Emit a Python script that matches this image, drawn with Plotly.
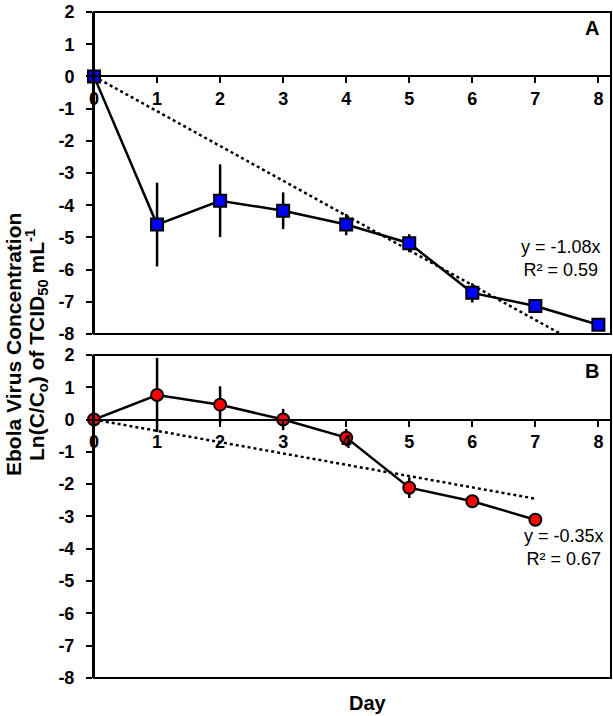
import plotly.graph_objects as go

# Panel A (squares)
days_a = [0, 1, 2, 3, 4, 5, 6, 7, 8]
conc_a = [0, -4.6, -3.86, -4.17, -4.6, -5.18, -6.72, -7.13, -7.71]
err_a = [0, 1.3, 1.13, 0.57, 0.33, 0.28, 0.3, 0, 0]
fit_a_x = [0, 8]
slope_a = -1.08

# Panel B (circles)
days_b = [0, 1, 2, 3, 4, 5, 6, 7]
conc_b = [0, 0.76, 0.46, 0.0, -0.56, -2.11, -2.53, -3.1]
err_b = [0, 1.15, 0.57, 0.33, 0.27, 0.32, 0, 0]
fit_b_x = [0, 7]
slope_b = -0.35

x_ticks = [0, 1, 2, 3, 4, 5, 6, 7, 8]
y_ticks = [2, 1, 0, -1, -2, -3, -4, -5, -6, -7, -8]
y_labels = [str(v) for v in y_ticks]

FONT = "Liberation Sans"
dom_a = [0.5164, 1.0]
dom_b = [0.0, 0.4851]

fig = go.Figure()

# fitted lines
fig.add_trace(go.Scatter(x=fit_a_x, y=[slope_a * v for v in fit_a_x], mode="lines",
                         line=dict(color="black", width=2.5, dash="dot"),
                         xaxis="x", yaxis="y", showlegend=False))
fig.add_trace(go.Scatter(x=fit_b_x, y=[slope_b * v for v in fit_b_x], mode="lines",
                         line=dict(color="black", width=2.5, dash="dot"),
                         xaxis="x2", yaxis="y2", showlegend=False))

# data
fig.add_trace(go.Scatter(
    x=days_a, y=conc_a, mode="lines+markers",
    line=dict(color="black", width=2.5),
    marker=dict(symbol="square", size=12, color="#0000ff", line=dict(color="black", width=2)),
    error_y=dict(type="data", array=err_a, visible=True, color="black", thickness=2.5, width=0),
    xaxis="x", yaxis="y", showlegend=False, cliponaxis=False))
fig.add_trace(go.Scatter(
    x=days_b, y=conc_b, mode="lines+markers",
    line=dict(color="black", width=2.5),
    marker=dict(symbol="circle", size=12, color="#ff0000", line=dict(color="black", width=2)),
    error_y=dict(type="data", array=err_b, visible=True, color="black", thickness=2.5, width=0),
    xaxis="x2", yaxis="y2", showlegend=False, cliponaxis=False))

tickfont = dict(family=FONT, size=18, color="black", weight="bold")
xax = dict(range=[0, 8.2], tickvals=x_ticks, showgrid=False, zeroline=False,
           showline=True, linecolor="black", linewidth=2,
           ticks="outside", ticklen=6, tickwidth=2, tickcolor="black",
           tickfont=tickfont, ticklabelstandoff=0, anchor="free")
yax = dict(range=[-8, 2], tickvals=y_ticks, ticktext=y_labels, showgrid=False,
           zeroline=False, showline=True, linecolor="black", linewidth=2,
           ticks="outside", ticklen=6, tickwidth=2, tickcolor="black",
           tickfont=tickfont, ticklabelstandoff=8)

fig.update_layout(
    width=613, height=716,
    margin=dict(l=94, r=2, t=6, b=38),
    plot_bgcolor="white", paper_bgcolor="white",
    xaxis=dict(xax, position=dom_a[0] + 0.8 * (dom_a[1] - dom_a[0])),
    xaxis2=dict(xax, position=dom_b[0] + 0.8 * (dom_b[1] - dom_b[0])),
    yaxis=dict(yax, domain=dom_a, anchor="x"),
    yaxis2=dict(yax, domain=dom_b, anchor="x2"),
    shapes=[
        dict(type="rect", xref="x domain", yref="y domain", x0=0, x1=1, y0=0, y1=1,
             line=dict(color="black", width=2), layer="above"),
        dict(type="rect", xref="x2 domain", yref="y2 domain", x0=0, x1=1, y0=0, y1=1,
             line=dict(color="black", width=2), layer="above"),
    ],
)

bold = dict(family=FONT, size=21, color="black", weight="bold")
reg = dict(family=FONT, size=18, color="black")
fig.add_annotation(text="A", x=0.98, y=0.95, xref="x domain", yref="y domain",
                   showarrow=False, font=dict(bold, size=20), xanchor="right", yanchor="middle")
fig.add_annotation(text="B", x=0.98, y=0.95, xref="x2 domain", yref="y2 domain",
                   showarrow=False, font=dict(bold, size=20), xanchor="right", yanchor="middle")
fig.add_annotation(text="y = -1.08x<br>R² = 0.59", x=0.985, y=0.235, xref="x domain",
                   yref="y domain", showarrow=False, font=reg, xanchor="right",
                   yanchor="middle", align="center")
fig.add_annotation(text="y = -0.35x<br>R² = 0.67", x=0.99, y=0.405, xref="x2 domain",
                   yref="y2 domain", showarrow=False, font=reg, xanchor="right",
                   yanchor="middle", align="center")
# y axis title, two separately placed lines
fig.add_annotation(text="Ebola Virus Concentration",
                   x=0, y=0.5, xref="paper", yref="paper", xshift=-81,
                   showarrow=False, textangle=-90, font=bold,
                   xanchor="center", yanchor="middle")
fig.add_annotation(text="Ln(C/C<sub>o</sub>) of TCID<sub>50</sub> mL<sup>-1</sup>",
                   x=0, y=0.5, xref="paper", yref="paper", xshift=-58,
                   showarrow=False, textangle=-90, font=bold,
                   xanchor="center", yanchor="middle")
fig.add_annotation(text="Day", x=0.53, y=0, xref="paper", yref="paper", yshift=-25,
                   showarrow=False, font=dict(bold, size=20), xanchor="center", yanchor="middle")

fig.write_html("out.html", config={"displayModeBar": False},
               post_script="document.body.style.margin='0px';")
